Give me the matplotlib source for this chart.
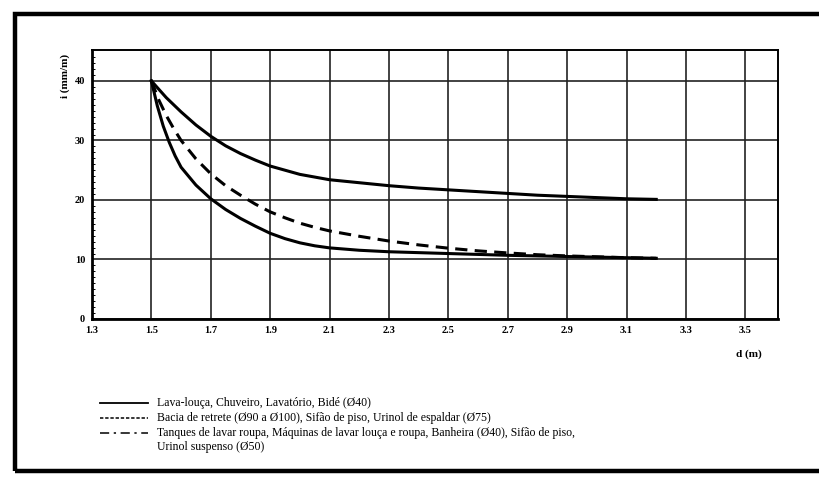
import matplotlib
matplotlib.use("Agg")
import matplotlib.pyplot as plt
from matplotlib.lines import Line2D
from matplotlib.patches import Rectangle

plt.rcParams['font.family'] = ['Liberation Serif', 'DejaVu Serif']

# distance d (m) and slope i (mm/m) for each curve
d_upper = [1.5, 1.55, 1.6, 1.65, 1.7, 1.75, 1.8, 1.85, 1.9, 2.0, 2.1, 2.2, 2.3,
           2.4, 2.5, 2.6, 2.7, 2.8, 2.9, 3.0, 3.1, 3.2]
i_upper = [40, 37.2, 34.8, 32.6, 30.7, 29.1, 27.8, 26.7, 25.7, 24.3, 23.4, 22.9, 22.4,
           22.0, 21.7, 21.4, 21.1, 20.8, 20.6, 20.4, 20.2, 20.1]

d_mid = [1.5, 1.525, 1.55, 1.575, 1.6, 1.65, 1.7, 1.75, 1.8, 1.85, 1.9, 1.95, 2.0,
         2.05, 2.1, 2.2, 2.3, 2.4, 2.5, 2.6, 2.7, 2.8, 2.9, 3.0, 3.1, 3.2]
i_mid = [40, 36.8, 34.2, 32.0, 30.0, 26.9, 24.4, 22.4, 20.8, 19.3, 18.0, 17.0, 16.1,
         15.4, 14.8, 13.9, 13.1, 12.45, 11.9, 11.45, 11.1, 10.8, 10.6, 10.45, 10.3, 10.2]

d_lower = [1.5, 1.52, 1.54, 1.56, 1.58, 1.6, 1.65, 1.7, 1.75, 1.8, 1.85, 1.9, 1.95,
           2.0, 2.05, 2.1, 2.2, 2.3, 2.4, 2.5, 2.6, 2.7, 2.8, 2.9, 3.0, 3.1, 3.2]
i_lower = [40, 35.8, 32.4, 29.7, 27.4, 25.5, 22.5, 20.2, 18.4, 16.9, 15.6, 14.4, 13.5,
           12.8, 12.3, 11.95, 11.55, 11.3, 11.15, 11.0, 10.85, 10.7, 10.6, 10.5, 10.4, 10.3, 10.2]

x_ticks = [1.3, 1.5, 1.7, 1.9, 2.1, 2.3, 2.5, 2.7, 2.9, 3.1, 3.3, 3.5]
y_ticks = [0, 10, 20, 30, 40]

legend_labels = [
    "Lava-louça, Chuveiro, Lavatório, Bidé (Ø40)",
    "Bacia de retrete (Ø90 a Ø100), Sifão de piso, Urinol de espaldar (Ø75)",
    "Tanques de lavar roupa, Máquinas de lavar louça e roupa, Banheira (Ø40), Sifão de piso,\nUrinol suspenso (Ø50)",
]
legend_styles = [
    dict(linestyle='-', linewidth=1.3),
    dict(linestyle=(0, (2.2, 1.2)), linewidth=1.1),
    dict(linestyle=(0, (6, 3, 1.5, 3)), linewidth=1.1),
]

W, H = 820, 479
fig = plt.figure(figsize=(W / 100, H / 100), dpi=100)

# outer frame of the figure
fig.add_artist(Rectangle((15 / W, 1 - 471 / H), 830 / W, (471 - 14) / H,
                         transform=fig.transFigure, fill=False,
                         edgecolor='black', linewidth=3.2))

ax = fig.add_axes([92 / W, 1 - 319 / H, (778 - 92) / W, (319 - 50) / H])

ax.plot(d_upper, i_upper, color='black', linewidth=2.2, solid_joinstyle='round')
ax.plot(d_mid, i_mid, color='black', linewidth=2.2, linestyle=(0, (4, 2.4)))
ax.plot(d_lower, i_lower, color='black', linewidth=2.2, solid_joinstyle='round')

ax.set_xlim(1.3, 3.61)
ax.set_ylim(0, 45.2)
ax.set_xticks(x_ticks)
ax.set_xticklabels([f"{v:.1f}" for v in x_ticks])
ax.set_yticks(y_ticks)
ax.set_yticks(range(0, 45), minor=True)
ax.tick_params(axis='both', which='major', length=0, labelsize=7.5, pad=5)
ax.tick_params(axis='y', which='minor', direction='in', length=2.5, width=0.7)
for lab in ax.get_xticklabels() + ax.get_yticklabels():
    lab.set_fontweight('bold')

ax.grid(True, which='major', color='#222222', linewidth=1.2)
for side in ['left', 'bottom']:
    ax.spines[side].set_linewidth(2.0)
for side in ['top', 'right']:
    ax.spines[side].set_linewidth(1.4)

fig.text(65 / W, 1 - 76 / H, "i (mm/m)", rotation=90, ha='center', va='center',
         fontsize=8, fontweight='bold')
fig.text(762 / W, 1 - 354 / H, "d (m)", ha='right', va='center',
         fontsize=8, fontweight='bold')

# legend drawn as line samples with captions
row_y = [403, 418, 433]
for y, label, style in zip(row_y, legend_labels, legend_styles):
    fig.add_artist(Line2D([100 / W, 148 / W], [1 - y / H, 1 - y / H],
                          transform=fig.transFigure, color='black', **style))
    fig.text(157 / W, 1 - (y - 6) / H, label, ha='left', va='top',
             fontsize=8.5, linespacing=1.25)

fig.savefig("out.png", dpi=100)
